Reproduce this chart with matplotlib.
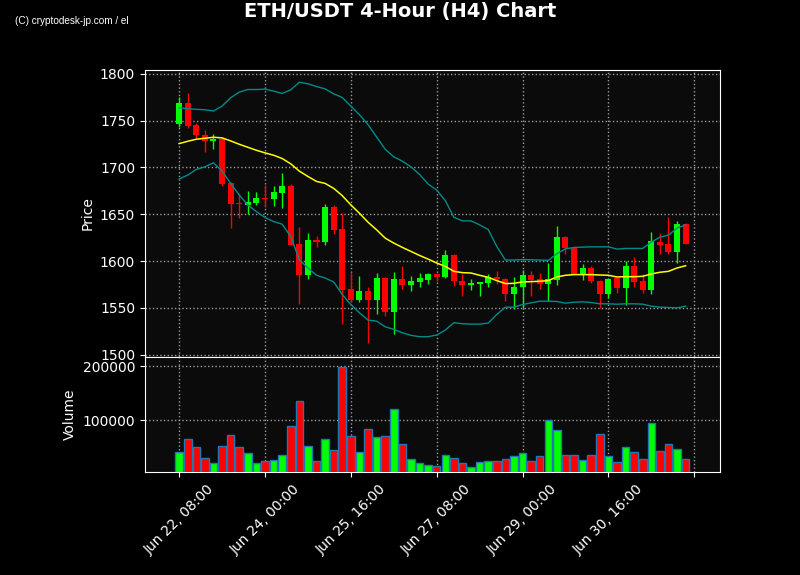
"""
ETH/USDT 4-hour candles with Bollinger bands and volume
"""

import pandas as pd
import matplotlib
matplotlib.use("Agg")
import matplotlib.pyplot as plt


# DATA
start = "2023-06-22 08:00"
n = 60

opens = [1746.5, 1768.4, 1745.0, 1735.1, 1728.4, 1730.9, 1683.3, 1662.4, 1660.3, 1662.4,
         1667.4, 1666.7, 1673.1, 1680.1, 1618.5, 1584.8, 1622.7, 1619.9, 1657.8, 1634.4,
         1570.6, 1558.9, 1568.4, 1558.2, 1582.3, 1545.4, 1581.2, 1574.1, 1578.0, 1580.1,
         1586.5, 1583.3, 1606.7, 1579.1, 1574.1, 1575.2, 1576.3, 1583.3, 1581.2, 1564.5,
         1572.0, 1585.5, 1580.9, 1575.2, 1580.1, 1625.9, 1613.8, 1586.5, 1592.9, 1579.1,
         1565.3, 1581.6, 1571.6, 1595.0, 1579.1, 1569.5, 1620.6, 1618.5, 1609.2, 1639.7]
highs = [1774.8, 1779.8, 1747.9, 1740.4, 1736.2, 1732.3, 1684.8, 1672.3, 1674.5, 1673.4,
         1681.2, 1679.8, 1693.6, 1681.9, 1636.2, 1629.8, 1626.3, 1660.6, 1659.9, 1651.1,
         1588.3, 1584.0, 1572.3, 1586.9, 1583.3, 1588.3, 1595.0, 1584.4, 1587.6, 1587.6,
         1587.0, 1612.1, 1607.8, 1586.2, 1581.2, 1577.6, 1586.5, 1589.4, 1581.5, 1583.0,
         1590.1, 1589.4, 1587.2, 1597.5, 1637.9, 1627.0, 1614.5, 1596.8, 1594.7, 1579.4,
         1582.0, 1581.9, 1599.6, 1604.3, 1586.2, 1630.9, 1629.8, 1646.8, 1642.6, 1640.4]
lows = [1742.9, 1742.2, 1731.6, 1716.7, 1720.2, 1680.5, 1635.8, 1645.7, 1650.0, 1659.9,
        1658.2, 1658.5, 1656.4, 1616.7, 1553.6, 1580.9, 1614.5, 1616.7, 1628.7, 1533.0,
        1556.4, 1556.4, 1512.8, 1543.6, 1541.5, 1522.3, 1570.2, 1568.1, 1572.3, 1575.5,
        1579.1, 1581.9, 1573.4, 1562.8, 1569.2, 1562.8, 1572.3, 1575.5, 1557.8, 1548.9,
        1550.0, 1562.8, 1570.2, 1557.1, 1574.8, 1607.5, 1586.2, 1579.8, 1576.6, 1550.0,
        1560.6, 1565.6, 1552.9, 1572.0, 1566.3, 1565.3, 1607.5, 1607.8, 1597.9, 1617.7]
closes = [1768.4, 1744.0, 1734.8, 1728.4, 1730.1, 1682.3, 1661.4, 1660.6, 1663.5, 1667.4,
          1666.7, 1673.8, 1680.1, 1617.4, 1584.8, 1622.7, 1619.9, 1657.8, 1633.7, 1569.5,
          1558.9, 1568.4, 1558.2, 1582.3, 1545.4, 1581.2, 1574.1, 1579.1, 1581.6, 1586.5,
          1583.3, 1606.7, 1578.4, 1574.1, 1576.3, 1577.3, 1583.0, 1580.5, 1564.5, 1572.7,
          1585.5, 1580.1, 1575.2, 1580.9, 1625.9, 1613.8, 1586.5, 1592.9, 1578.4, 1565.3,
          1581.2, 1571.6, 1595.0, 1578.0, 1569.5, 1620.9, 1617.4, 1609.2, 1639.7, 1618.5]

volume = [41300, 64750, 49900, 29600, 20300, 52400, 72200, 49900, 38800, 20300,
          24000, 25900, 35700, 89400, 135100, 51800, 24000, 64750, 44400, 198100,
          70900, 40700, 83300, 68500, 70300, 120300, 55500, 27700, 20300, 16600,
          14750, 35100, 29600, 20300, 12900, 22200, 24000, 24000, 27700, 33300,
          38800, 24000, 33300, 99900, 81400, 35100, 35100, 25900, 35100, 74000,
          33300, 22200, 49900, 40700, 27700, 94400, 42500, 55500, 46200, 27700]

bb_upper = [1763.8, 1762.8, 1762.1, 1761.7, 1760.3, 1765.6, 1774.5, 1780.5, 1783.3, 1783.3,
            1783.7, 1781.6, 1779.1, 1783.0, 1791.1, 1789.4, 1786.5, 1784.0, 1778.7, 1774.8,
            1765.6, 1756.4, 1745.8, 1732.6, 1719.5, 1711.4, 1706.8, 1700.7, 1692.6, 1682.3,
            1675.9, 1664.6, 1646.8, 1642.9, 1642.9, 1638.7, 1633.7, 1615.6, 1601.1, 1601.1,
            1601.6, 1601.4, 1601.1, 1600.7, 1607.8, 1613.1, 1614.5, 1614.9, 1615.2, 1615.2,
            1615.2, 1612.8, 1613.5, 1613.5, 1613.5, 1620.2, 1625.5, 1627.7, 1635.1, 1638.7]
bb_mid = [1725.5, 1728.0, 1730.2, 1731.2, 1732.3, 1731.6, 1728.4, 1724.8, 1721.6, 1718.4,
          1715.6, 1713.1, 1709.6, 1703.9, 1696.1, 1690.4, 1685.1, 1683.0, 1677.7, 1669.9,
          1660.0, 1651.1, 1641.5, 1633.4, 1624.5, 1619.2, 1614.6, 1610.3, 1606.0, 1602.1,
          1597.9, 1594.3, 1589.0, 1587.6, 1587.2, 1584.8, 1582.6, 1579.1, 1575.9, 1576.2,
          1577.7, 1578.0, 1578.4, 1579.1, 1583.0, 1584.8, 1585.5, 1585.5, 1585.5, 1585.1,
          1584.8, 1583.0, 1583.3, 1583.3, 1583.7, 1586.2, 1588.0, 1589.0, 1592.6, 1595.0]
bb_lower = [1687.6, 1691.9, 1697.9, 1700.7, 1705.0, 1696.1, 1683.0, 1670.6, 1659.9, 1652.9,
            1646.5, 1642.2, 1639.4, 1626.3, 1601.4, 1592.6, 1584.8, 1581.9, 1577.7, 1564.2,
            1553.6, 1544.7, 1536.9, 1535.8, 1529.8, 1527.0, 1523.4, 1520.6, 1519.2, 1519.2,
            1520.9, 1526.2, 1534.1, 1533.0, 1532.6, 1532.6, 1533.7, 1542.9, 1550.7, 1550.7,
            1553.6, 1555.3, 1557.1, 1557.1, 1556.8, 1555.0, 1556.0, 1556.4, 1555.7, 1554.3,
            1554.3, 1553.9, 1554.3, 1554.3, 1553.9, 1551.8, 1550.7, 1550.4, 1550.0, 1551.8]


df = pd.DataFrame({"open": opens, "high": highs, "low": lows, "close": closes,
                   "volume": volume, "upper": bb_upper, "mid": bb_mid, "lower": bb_lower})
df["date"] = pd.date_range(start, periods=n, freq="4h")
x = list(range(n))
up = df["close"] >= df["open"]
colors = ["#00ff00" if u else "#ff0000" for u in up]

# Plot
plt.rcParams["font.family"] = "DejaVu Sans"
fig = plt.figure(figsize=(8, 5.75), dpi=100, facecolor="black")
ax = fig.add_axes([0.181, 0.380, 0.719, 0.498])
axv = fig.add_axes([0.181, 0.179, 0.719, 0.200], sharex=ax)

for a in (ax, axv):
    a.set_facecolor("#0b0b0b")
    for s in a.spines.values():
        s.set_color("white")
    a.tick_params(colors="white", labelsize=10)
    a.grid(True, color="#9a9a9a", linestyle=":", linewidth=1)
    a.set_axisbelow(True)

# candles
ax.vlines(x, df["low"], df["high"], colors=colors, linewidth=1, zorder=2)
body = (df["close"] - df["open"]).abs().clip(lower=0.6)
ax.bar(x, body, bottom=df[["open", "close"]].min(axis=1), width=0.7,
       color=colors, linewidth=0, zorder=3)

# bollinger
ax.plot(x, df["upper"], color="#008b8b", linewidth=1, zorder=4)
ax.plot(x, df["lower"], color="#008b8b", linewidth=1, zorder=4)
ax.plot(x, df["mid"], color="#ffff00", linewidth=1.1, zorder=4)

ax.set_ylim(1498, 1804)
ax.set_yticks(range(1500, 1801, 50))
ax.set_ylabel("Price", color="white", fontsize=10)
plt.setp(ax.get_xticklabels(), visible=False)

# volume
axv.bar(x, df["volume"], width=0.88, color=colors, edgecolor="#1f77b4",
        linewidth=1, zorder=3)
axv.set_ylim(4300, 216700)
axv.set_yticks([100000, 200000])
axv.set_yticklabels(["100000", "200000"])
axv.set_ylabel("Volume", color="white", fontsize=10)

ticks = list(range(0, n + 1, 10))
labels = [df["date"][i].strftime("%b %d, %H:%M") if i < n else "" for i in ticks]
axv.set_xticks(ticks)
axv.set_xticklabels(labels, rotation=45, ha="center")
axv.set_xlim(-4, 63)

fig.suptitle("ETH/USDT 4-Hour (H4) Chart", color="white", fontsize=14,
             fontweight="bold", y=0.997)
fig.text(0.019, 0.958, "(C) cryptodesk-jp.com / el", color="white", fontsize=7.2,
         family="Liberation Sans")

fig.savefig("out.png", facecolor=fig.get_facecolor())
